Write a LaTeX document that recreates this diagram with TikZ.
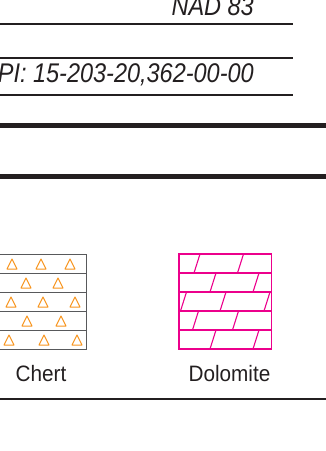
\documentclass[tikz,border=0pt]{standalone}
\usepackage{fontspec}
\setmainfont{Liberation Sans}
\newfontfamily\headfont[FakeStretch=0.87]{Liberation Sans}
\newfontfamily\legendfont[FakeStretch=0.93]{Liberation Sans}
\usetikzlibrary{positioning}
\definecolor{ink}{HTML}{231F20}
\definecolor{framegray}{HTML}{58595B}
\definecolor{chertorange}{HTML}{F7941D}
\definecolor{dolopink}{HTML}{EC008C}

\begin{document}
\begin{tikzpicture}[x=1pt,y=-1pt,
  thinrule/.style={draw=ink,line width=1.4pt},
  heavyrule/.style={draw=ink,line width=5pt},
  headtext/.style={font=\headfont\fontsize{27}{28}\selectfont\itshape,text=ink,inner sep=0pt,anchor=base east},
  legendtext/.style={font=\legendfont\fontsize{22.3}{24}\selectfont,text=ink,inner sep=0pt,anchor=base},
  chertbox/.style={draw=framegray,line width=1pt},
  dolobox/.style={draw=dolopink,line width=1.1pt}]
  \useasboundingbox (0,0) rectangle (326,451);

  \node[headtext] (nad) at (254,15) {NAD 83};
  \node[headtext] (api) at (254,82.5) {API: 15-203-20,362-00-00};
  \draw[thinrule] (0,24) -- (293,24);
  \draw[thinrule] (0,58) -- (293,58);
  \draw[thinrule] (0,95) -- (293,95);

  \draw[heavyrule] (0,125.8) -- (326,125.8);
  \draw[heavyrule] (0,176.7) -- (326,176.7);

  \draw[chertbox] (-2,254) rectangle (86,349);
  \foreach \y in {273,292,311,330}
    \draw[chertbox] (-2,\y) -- (86,\y);
  \foreach \y/\xs in {254/{12,41,70},273/{26,58},292/{11,43,75},311/{27,61},330/{9,44,77}}
    \foreach \x in \xs
      \draw[chertorange,line width=1pt,line join=round]
        (\x-5,\y+15) -- (\x,\y+5) -- (\x+5,\y+15) -- cycle;

  \draw[dolobox] (179,254) rectangle (271.5,349);
  \foreach \y in {273,292,311,330}
    \draw[dolobox] (179,\y) -- (271.5,\y);
  \foreach \y/\xs in {254/{194,237.5},273/{210,253},292/{180.5,220,264},311/{192.5,232.5},330/{210,253}}
    \foreach \x in \xs
      \draw[dolobox] (\x,\y+19) -- (\x+6,\y);

  \node[legendtext] (chert) at (41,381) {Chert};
  \node[legendtext] (dolomite) at (229.5,381) {Dolomite};

  \draw[ink,line width=1.3pt] (0,399) -- (326,399);
\end{tikzpicture}
\end{document}
